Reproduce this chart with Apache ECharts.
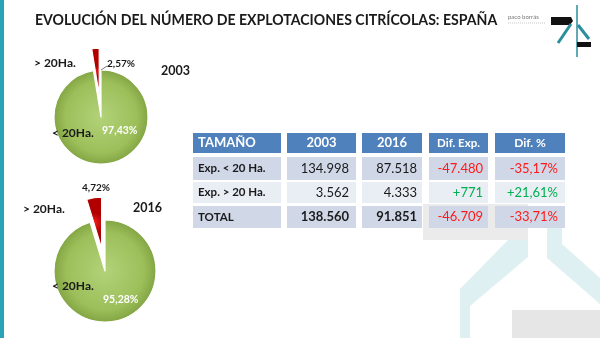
<!DOCTYPE html>
<html>
<head>
<meta charset="utf-8">
<script src="https://cdn.jsdelivr.net/npm/echarts@6/dist/echarts.min.js"></script>
<style>
  html, body { margin: 0; padding: 0; background: #ffffff; }
  #chart { width: 600px; height: 338px; }
</style>
</head>
<body>
<div id="chart"></div>
<script>
// ---- data ----
const titleText = 'EVOLUCIÓN DEL NÚMERO DE EXPLOTACIONES CITRÍCOLAS: ESPAÑA';
const pieYears = ['2003', '2016'];
const sizeNames = ['< 20Ha.', '> 20Ha.'];
const share2003 = [97.43, 2.57];
const share2016 = [95.28, 4.72];

const tableHeader = ['TAMAÑO', '2003', '2016', 'Dif. Exp.', 'Dif. %'];
const rowLabels = ['Exp. < 20 Ha.', 'Exp. > 20 Ha.', 'TOTAL'];
const exp2003 = [134998, 3562, 138560];
const exp2016 = [87518, 4333, 91851];
const difExp = [-47480, 771, -46709];
const difPct = [-35.17, 21.61, -33.71];

// ---- formatting helpers (Spanish number style) ----
function thousands(n) {
  const s = String(Math.abs(n)).replace(/\B(?=(\d{3})+(?!\d))/g, '.');
  return (n < 0 ? '-' : '') + s;
}
function signed(n) { return (n > 0 ? '+' : '') + thousands(n); }
function pct(v, sign) {
  const s = Math.abs(v).toFixed(2).replace('.', ',') + '%';
  if (!sign) return s;
  return (v < 0 ? '-' : '+') + s;
}

const FONT = 'Lato, "Open Sans", sans-serif';
const DARK = '#1a1a1a';
const RED_TXT = '#ff1a1a';
const GREEN_TXT = '#00b050';

const greenFill = {
  type: 'radial', x: 0.5, y: 0.5, r: 0.5,
  colorStops: [
    { offset: 0, color: '#b3d279' },
    { offset: 0.75, color: '#9cbf5a' },
    { offset: 1, color: '#82a443' }
  ]
};
const redFill = {
  type: 'radial', x: 0.5, y: 0.5, r: 0.6,
  colorStops: [
    { offset: 0, color: '#f02020' },
    { offset: 1, color: '#b00000' }
  ]
};

function pieSeries(shares, center, radius, offset) {
  return {
    type: 'pie',
    center: center,
    radius: [0, radius],
    startAngle: 90,
    clockwise: true,
    selectedMode: 'multiple',
    selectedOffset: offset,
    silent: true,
    animation: false,
    label: { show: false },
    labelLine: { show: false },
    itemStyle: { borderColor: '#ffffff', borderWidth: 1.2 },
    data: [
      { name: sizeNames[0], value: shares[0], itemStyle: { color: greenFill } },
      { name: sizeNames[1], value: shares[1], selected: true, itemStyle: { color: redFill } }
    ]
  };
}

// ---- static graphics: background marks, logo, labels, table ----
const g = [];

// left accent bar
g.push({ type: 'rect', shape: { x: 0, y: 0, width: 4, height: 338 }, style: { fill: '#2aa3b7' }, z: 1 });

// faint watermark shapes in the lower right
g.push({ type: 'rect', shape: { x: 423, y: 204, width: 105, height: 36 }, style: { fill: '#ebebeb' }, z: 0 });
g.push({ type: 'polygon', shape: { points: [[508, 240], [528, 240], [528, 257], [470, 306], [470, 338], [460, 338], [460, 289]] }, style: { fill: '#dff0f3' }, z: 0 });
g.push({ type: 'polygon', shape: { points: [[547, 224], [562, 224], [562, 244], [600, 278], [600, 304], [547, 258]] }, style: { fill: '#dff0f3' }, z: 0 });
g.push({ type: 'rect', shape: { x: 512, y: 310, width: 88, height: 28 }, style: { fill: '#e6e6e6' }, z: 0 });

// title
g.push({
  type: 'text', x: 35, y: 20, scaleX: 0.94, z: 5,
  style: { text: titleText, font: 'bold 15px ' + FONT, fill: DARK, textAlign: 'left', textVerticalAlign: 'middle' }
});

// logo
g.push({ type: 'text', x: 508, y: 17, z: 5, style: { text: 'paco borrás', font: '6px ' + FONT, fill: '#777', textVerticalAlign: 'middle' } });
g.push({ type: 'line', shape: { x1: 508, y1: 23, x2: 546, y2: 23 }, style: { stroke: '#c8c8c8', lineWidth: 1, lineDash: [1, 1] }, z: 5 });
g.push({ type: 'polygon', shape: { points: [[551, 17], [571, 17], [573, 21], [570, 25], [551, 25]] }, style: { fill: '#111' }, z: 5 });
g.push({ type: 'line', shape: { x1: 571, y1: 24, x2: 558, y2: 43 }, style: { stroke: '#2a8e9e', lineWidth: 3 }, z: 5 });
g.push({ type: 'line', shape: { x1: 577, y1: 5, x2: 577, y2: 57 }, style: { stroke: '#2a8e9e', lineWidth: 1.5 }, z: 5 });
g.push({ type: 'line', shape: { x1: 578, y1: 25, x2: 589, y2: 39 }, style: { stroke: '#2a8e9e', lineWidth: 3 }, z: 5 });
g.push({ type: 'rect', shape: { x: 577, y: 42, width: 14, height: 5 }, style: { fill: '#111' }, z: 5 });

// pie labels
function txt(text, x, y, font, fill, align) {
  g.push({ type: 'text', x: x, y: y, z: 10, style: { text: text, font: font, fill: fill, textAlign: align || 'left', textVerticalAlign: 'middle' } });
}
// 2003
txt(sizeNames[1], 34, 63, 'bold 12px ' + FONT, DARK);
txt(pct(share2003[1]), 107, 64, 'bold 10px ' + FONT, DARK);
g.push({ type: 'line', shape: { x1: 101, y1: 70, x2: 107, y2: 66 }, style: { stroke: '#555', lineWidth: 0.8 }, z: 10 });
txt(pieYears[0], 161, 71, 'bold 12.5px ' + FONT, DARK);
txt(sizeNames[0], 52, 133, 'bold 12px ' + FONT, DARK);
txt(pct(share2003[0]), 102, 131, 'bold 10.5px ' + FONT, '#ffffff');
// 2016
txt(pct(share2016[1]), 82, 188, 'bold 10px ' + FONT, DARK);
txt(sizeNames[1], 23, 209, 'bold 12px ' + FONT, DARK);
txt(pieYears[1], 133, 208, 'bold 12.5px ' + FONT, DARK);
txt(sizeNames[0], 52, 286, 'bold 12px ' + FONT, DARK);
txt(pct(share2016[0]), 103, 300, 'bold 10.5px ' + FONT, '#ffffff');

// table
const colX = [193, 287, 362, 429, 495];
const colW = [88, 69, 60, 59, 70];
const rowY = [133, 157, 182, 206];
const rowH = [20, 23, 21, 22];
const rowFill = ['#4f81bd', '#d0d8e8', '#e9edf4', '#d0d8e8'];

for (let r = 0; r < 4; r++) {
  for (let c = 0; c < 5; c++) {
    g.push({ type: 'rect', shape: { x: colX[c], y: rowY[r], width: colW[c], height: rowH[r] }, style: { fill: rowFill[r] }, z: 3 });
  }
}
const headerFonts = ['bold 13px ', 'bold 13px ', 'bold 13px ', 'bold 11.5px ', 'bold 12px '];
for (let c = 0; c < 5; c++) {
  const cy = rowY[0] + rowH[0] / 2;
  if (c === 0) txt(tableHeader[c], colX[c] + 5, cy, headerFonts[c] + FONT, '#ffffff');
  else txt(tableHeader[c], colX[c] + colW[c] / 2, cy, headerFonts[c] + FONT, '#ffffff', 'center');
}
for (let r = 0; r < rowLabels.length; r++) {
  const cy = rowY[r + 1] + rowH[r + 1] / 2;
  const w = r === 2 ? 'bold ' : '';
  txt(rowLabels[r], colX[0] + 5, cy, 'bold 11.5px ' + FONT, DARK);
  txt(thousands(exp2003[r]), colX[1] + colW[1] - 7, cy, w + '13px ' + FONT, DARK, 'right');
  txt(thousands(exp2016[r]), colX[2] + colW[2] - 5, cy, w + '13px ' + FONT, DARK, 'right');
  txt(signed(difExp[r]), colX[3] + colW[3] - 5, cy, '13px ' + FONT, difExp[r] < 0 ? RED_TXT : GREEN_TXT, 'right');
  txt(pct(difPct[r], true), colX[4] + colW[4] - 7, cy, '13px ' + FONT, difPct[r] < 0 ? RED_TXT : GREEN_TXT, 'right');
}

const chart = echarts.init(document.getElementById('chart'), null, { renderer: 'canvas' });
chart.setOption({
  backgroundColor: '#ffffff',
  animation: false,
  series: [
    pieSeries(share2003, [101, 117], 47, 22),
    pieSeries(share2016, [105, 271], 51, 23)
  ],
  graphic: g
});
</script>
</body>
</html>
